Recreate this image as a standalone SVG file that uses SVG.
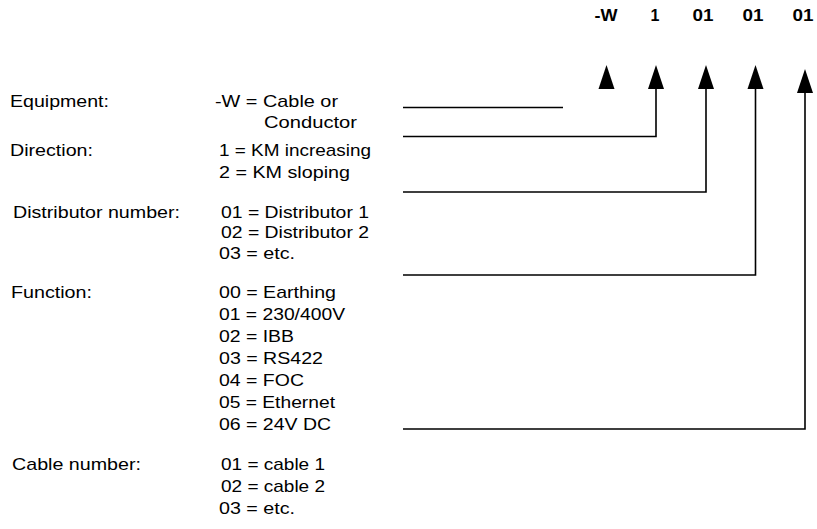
<svg xmlns="http://www.w3.org/2000/svg" xmlns:xlink="http://www.w3.org/1999/xlink" width="817" height="529" viewBox="0 0 817 529">
  <style>
    text { font-family: "Liberation Sans", Arial, sans-serif; fill: #000; }
    .t { font-size: 17px; }
    .code { font-size: 16px; font-weight: bold; text-anchor: middle; }
    .wire { fill: none; stroke: #000; stroke-width: 1.6; }
    .head { fill: #000; }
  </style>
  <defs>
    <path id="arrowhead" class="head" d="M0 0 L-8 24 L8 24 Z"/>
  </defs>

  <rect width="817" height="529" fill="#fff"/>

  <!-- code fields of the designation -W 1 01 01 01 -->
  <g id="code">
    <text class="code" x="606" y="21" textLength="23" lengthAdjust="spacingAndGlyphs">-W</text>
    <text class="code" x="655" y="21">1</text>
    <text class="code" x="703" y="21" textLength="21" lengthAdjust="spacingAndGlyphs">01</text>
    <text class="code" x="753" y="21" textLength="21" lengthAdjust="spacingAndGlyphs">01</text>
    <text class="code" x="803" y="21" textLength="21" lengthAdjust="spacingAndGlyphs">01</text>
  </g>

  <g id="equipment">
    <text class="t" x="10" y="107" textLength="99" lengthAdjust="spacingAndGlyphs">Equipment:</text>
    <text class="t" x="215" y="107" textLength="123" lengthAdjust="spacingAndGlyphs">-W = Cable or</text>
    <text class="t" x="264" y="128" textLength="93" lengthAdjust="spacingAndGlyphs">Conductor</text>
  </g>

  <g id="direction">
    <text class="t" x="10" y="156" textLength="83" lengthAdjust="spacingAndGlyphs">Direction:</text>
    <text class="t" x="219" y="156" textLength="152" lengthAdjust="spacingAndGlyphs">1 = KM increasing</text>
    <text class="t" x="219" y="178" textLength="131" lengthAdjust="spacingAndGlyphs">2 = KM sloping</text>
  </g>

  <g id="distributor">
    <text class="t" x="13" y="218" textLength="167" lengthAdjust="spacingAndGlyphs">Distributor number:</text>
    <text class="t" x="221" y="218" textLength="148" lengthAdjust="spacingAndGlyphs">01 = Distributor 1</text>
    <text class="t" x="221" y="238" textLength="148" lengthAdjust="spacingAndGlyphs">02 = Distributor 2</text>
    <text class="t" x="219" y="259" textLength="76" lengthAdjust="spacingAndGlyphs">03 = etc.</text>
  </g>

  <g id="function">
    <text class="t" x="11" y="298" textLength="81" lengthAdjust="spacingAndGlyphs">Function:</text>
    <text class="t" x="219" y="298" textLength="117" lengthAdjust="spacingAndGlyphs">00 = Earthing</text>
    <text class="t" x="219" y="320" textLength="126" lengthAdjust="spacingAndGlyphs">01 = 230/400V</text>
    <text class="t" x="219" y="342" textLength="75" lengthAdjust="spacingAndGlyphs">02 = IBB</text>
    <text class="t" x="219" y="364" textLength="104" lengthAdjust="spacingAndGlyphs">03 = RS422</text>
    <text class="t" x="219" y="386" textLength="85" lengthAdjust="spacingAndGlyphs">04 = FOC</text>
    <text class="t" x="219" y="408" textLength="116" lengthAdjust="spacingAndGlyphs">05 = Ethernet</text>
    <text class="t" x="219" y="430" textLength="112" lengthAdjust="spacingAndGlyphs">06 = 24V DC</text>
  </g>

  <g id="cable">
    <text class="t" x="12" y="470" textLength="129" lengthAdjust="spacingAndGlyphs">Cable number:</text>
    <text class="t" x="221" y="470" textLength="104" lengthAdjust="spacingAndGlyphs">01 = cable 1</text>
    <text class="t" x="221" y="492" textLength="104" lengthAdjust="spacingAndGlyphs">02 = cable 2</text>
    <text class="t" x="219" y="514" textLength="76" lengthAdjust="spacingAndGlyphs">03 = etc.</text>
  </g>

  <!-- leader lines from each group up to its code field -->
  <g id="connectors">
    <path class="wire" d="M403 107.5 H563"/>
    <path class="wire" d="M403 136.5 H656 V88"/>
    <path class="wire" d="M403 192 H706 V88"/>
    <path class="wire" d="M403 275 H755.5 V88"/>
    <path class="wire" d="M403 429 H805 V92"/>
    <use xlink:href="#arrowhead" x="606.5" y="65"/>
    <use xlink:href="#arrowhead" x="656" y="65"/>
    <use xlink:href="#arrowhead" x="706" y="65"/>
    <use xlink:href="#arrowhead" x="755.5" y="65"/>
    <use xlink:href="#arrowhead" x="805" y="69"/>
  </g>
</svg>
